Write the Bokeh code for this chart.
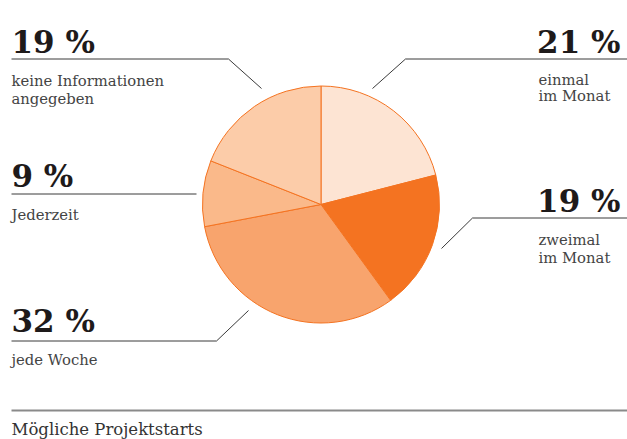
import numpy as np
from bokeh.plotting import figure
from bokeh.models import Range1d, ColumnDataSource
from bokeh.embed import file_html
from bokeh.resources import INLINE
from bokeh.core.properties import value

# ---- data ----
categories = ["einmal im Monat", "zweimal im Monat", "jede Woche", "Jederzeit",
              "keine Informationen angegeben"]
label_lines = [["einmal", "im Monat"], ["zweimal", "im Monat"], ["jede Woche"],
               ["Jederzeit"], ["keine Informationen", "angegeben"]]
shares = [21, 19, 32, 9, 19]
pct_labels = ["21 %", "19 %", "32 %", "9 %", "19 %"]
slice_colors = ["#fde4d3", "#f47321", "#f8a46d", "#fab98a", "#fccca9"]
chart_title = "Mögliche Projektstarts"

# ---- layout (pixel coordinates of the picture) ----
W, H = 627, 439
p = figure(width=W, height=H, x_range=Range1d(0, W), y_range=Range1d(H, 0),
           output_backend="svg", toolbar_location=None, min_border=0)
p.axis.visible = False
p.grid.visible = False
p.outline_line_color = None
p.background_fill_color = "white"
p.border_fill_color = "white"

cx, cy, r = 320.5, 204.0, 118.5
frac = np.array(shares, dtype=float) / sum(shares)
cum = np.cumsum(frac)
start = cum - frac
src = ColumnDataSource(dict(
    start_angle=np.pi / 2 - cum * 2 * np.pi,
    end_angle=np.pi / 2 - start * 2 * np.pi,
    color=slice_colors, cat=categories))
p.wedge(x=cx, y=cy, radius=r, start_angle="start_angle", end_angle="end_angle",
        fill_color="color", line_color="#f47321", line_width=1, source=src)

# per category: side, number x, number baseline, first label baseline, line gap, leader points
layout = [
    ("right", 620, 41, 79, 15.5, [(627, 58.5), (405, 58.5), (372, 88)]),
    ("right", 620, 200, 239, 18, [(627, 217.5), (472, 217.5), (441, 248)]),
    ("left", 11, 320, 359, 18, [(11, 340.5), (216, 340.5), (248, 310)]),
    ("left", 11, 175, 214, 18, [(11, 193.5), (196, 193.5)]),
    ("left", 11, 41, 79.5, 18.5, [(11, 58.5), (228, 58.5), (261, 88)]),
]

serif = value("DejaVu Serif")
for i, (side, nx, ny, ly, gap, pts) in enumerate(layout):
    p.line([q[0] for q in pts], [q[1] for q in pts], line_color="#3a3a3a", line_width=1)
    p.text(x=[nx], y=[ny], text=[pct_labels[i]], text_font=serif,
           text_font_style="bold", text_font_size="31px", text_color="#1e1a1a",
           text_align=side, text_baseline="alphabetic")
    lx = 538 if side == "right" else 11
    for j, t in enumerate(label_lines[i]):
        p.text(x=[lx], y=[ly + j * gap], text=[t], text_font=serif,
               text_font_size="14.8px", text_color="#444444",
               text_align="left", text_baseline="alphabetic")

p.line([11, 627], [410, 410], line_color="#8a8a8a", line_width=2)
p.text(x=[11], y=[429], text=[chart_title], text_font=serif, text_font_size="16.5px",
       text_color="#333333", text_align="left", text_baseline="alphabetic")

open("out.html", "w").write(file_html(p, INLINE))
